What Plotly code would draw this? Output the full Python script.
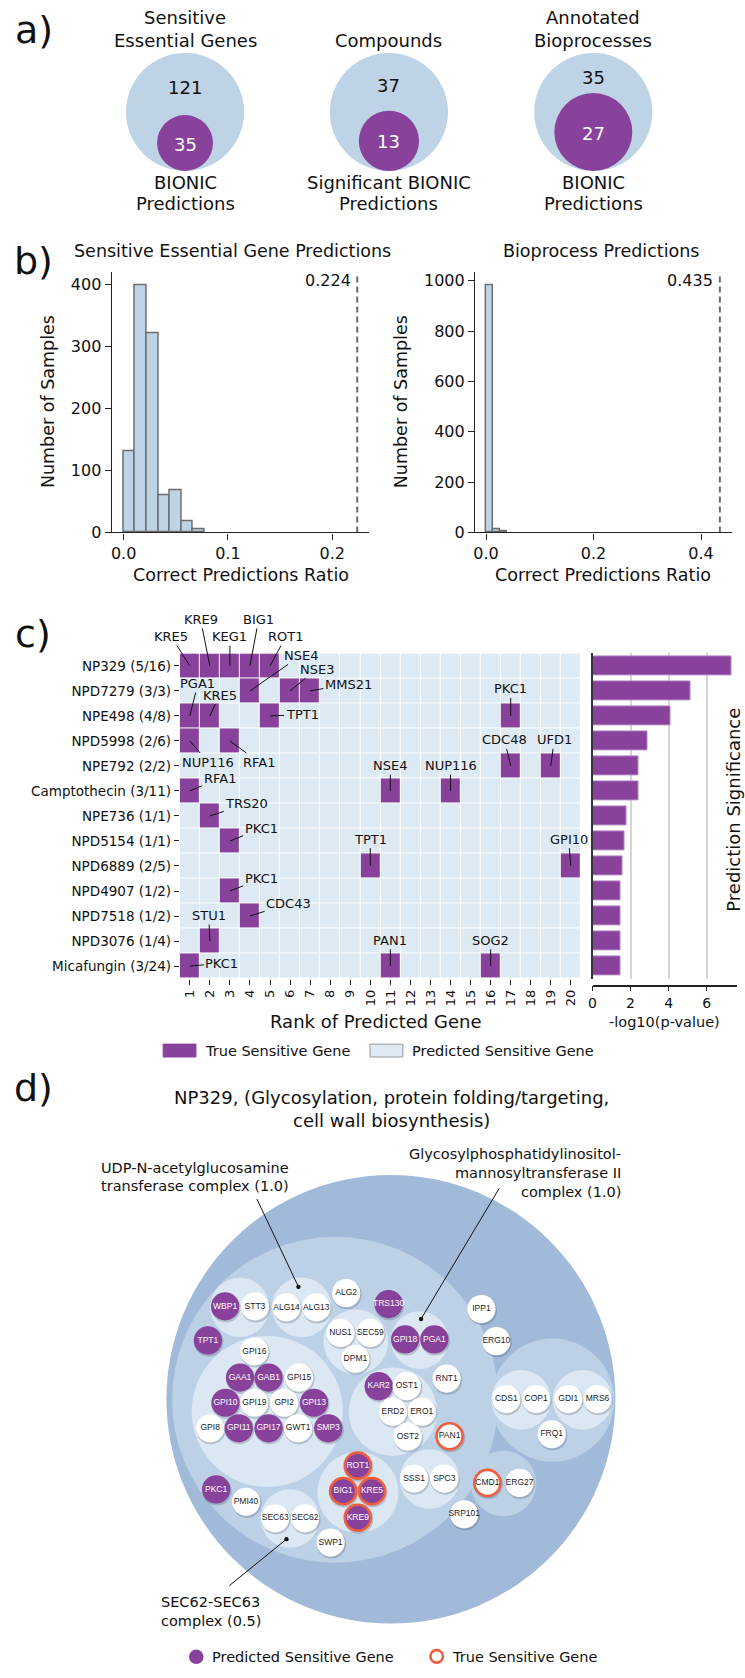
import numpy as np
import plotly.graph_objects as go

W, H = 745, 1678
FONT = "DejaVu Sans"
PURPLE = "#88429c"
LIGHT = "#ddeaf3"
ORANGE = "#ef5e3d"
VENN_BLUE = "#bed3e6"

# ---------------- data: panel a ----------------
venn_top_titles = [["Sensitive", "Essential Genes"], ["Compounds"], ["Annotated", "Bioprocesses"]]
venn_bottom_titles = [["BIONIC", "Predictions"], ["Significant BIONIC", "Predictions"], ["BIONIC", "Predictions"]]
venn_only_counts = [121, 37, 35]
venn_overlap_counts = [35, 13, 27]

# ---------------- data: panel b ----------------
gene_ratio_counts = [131, 400, 322, 60, 69, 19, 5]
gene_ratio_bin = 0.0111
gene_observed_ratio = 0.224
bio_ratio_counts = [983, 15, 5]
bio_ratio_bin = 0.013
bio_observed_ratio = 0.435

# ---------------- data: panel c ----------------
compounds = ["NP329 (5/16)", "NPD7279 (3/3)", "NPE498 (4/8)", "NPD5998 (2/6)", "NPE792 (2/2)",
             "Camptothecin (3/11)", "NPE736 (1/1)", "NPD5154 (1/1)", "NPD6889 (2/5)", "NPD4907 (1/2)",
             "NPD7518 (1/2)", "NPD3076 (1/4)", "Micafungin (3/24)"]
true_hit_ranks = [[1, 2, 3, 4, 5], [4, 6, 7], [1, 2, 5, 17], [1, 3], [17, 19], [1, 11, 14], [2], [3],
                  [10, 20], [3], [4], [2], [1, 11, 16]]
true_hit_genes = [["KRE5", "KRE9", "KEG1", "BIG1", "ROT1"], ["NSE4", "NSE3", "MMS21"],
                  ["PGA1", "KRE5", "TPT1", "PKC1"], ["NUP116", "RFA1"], ["CDC48", "UFD1"],
                  ["RFA1", "NSE4", "NUP116"], ["TRS20"], ["PKC1"], ["TPT1", "GPI10"], ["PKC1"],
                  ["CDC43"], ["STU1"], ["PKC1", "PAN1", "SOG2"]]
neg_log10_pvalue = [7.30, 5.13, 4.09, 2.87, 2.40, 2.40, 1.79, 1.69, 1.58, 1.48, 1.48, 1.48, 1.48]
ranks = list(range(1, 21))
rank_labels = [str(r) for r in ranks]

# label offsets (pixels, layout only)
label_offsets = [
    [(-18.5, -29.3), (-9.3, -46.6), (0, -29.3), (8.7, -46.6), (15.8, -29.3)],
    [(51, -35.5), (26.6, -21.8), (38.2, -6.8)],
    [(8.2, -32.4), (9.7, -20.7), (32, -1.4), (0, -27)],
    [(18.2, 21.1), (28.9, 21.1)],
    [(-6.2, -26.1), (3.4, -26.1)],
    [(29.9, -12.6), (0, -25.3), (0, -25.3)],
    [(37, -12.2)],
    [(31.2, -12.4)],
    [(0, -26.9), (-2.3, -26.9)],
    [(31.2, -12.1)],
    [(38.7, -12.3)],
    [(-1, -25.5)],
    [(32.2, -2.7), (0, -25.7), (0, -25.7)],
]

# ---------------- data: panel d ----------------
leaf_genes = ["WBP1", "STT3", "ALG14", "ALG13", "ALG2", "TRS130", "TPT1", "NUS1", "SEC59", "DPM1",
              "GPI18", "PGA1", "RNT1", "GPI16", "GAA1", "GAB1", "GPI15", "GPI10", "GPI19", "GPI2",
              "GPI13", "GPI8", "GPI11", "GPI17", "GWT1", "SMP3", "KAR2", "OST1", "ERD2", "ERO1",
              "OST2", "PAN1", "PKC1", "PMI40", "SEC63", "SEC62", "SWP1", "ROT1", "BIG1", "KRE5",
              "KRE9", "SSS1", "SPC3", "IPP1", "ERG10", "CDS1", "COP1", "GDI1", "MRS6", "FRQ1",
              "CMD1", "ERG27", "SRP101"]
predicted_genes = ["WBP1", "TRS130", "TPT1", "GPI18", "PGA1", "GAA1", "GAB1", "GPI10", "GPI13",
                   "GPI11", "GPI17", "SMP3", "KAR2", "PKC1", "ROT1", "BIG1", "KRE5", "KRE9"]
true_genes = ["ROT1", "BIG1", "KRE5", "KRE9", "PAN1", "CMD1"]

# circle-packing layout (pixel positions; layout only)
leaf_xy = {
    "WBP1": (222.3, 1314), "STT3": (252.3, 1314), "ALG14": (284, 1315), "ALG13": (314, 1315),
    "ALG2": (344, 1300.7), "TRS130": (386.7, 1311.7), "TPT1": (205, 1348.3),
    "NUS1": (338.3, 1340.7), "SEC59": (368.3, 1340.7), "DPM1": (353.3, 1366.7),
    "GPI18": (403.3, 1347.3), "PGA1": (432.7, 1347.3), "RNT1": (445, 1386.7),
    "GPI16": (251.7, 1359.3), "GAA1": (237.3, 1385.7), "GAB1": (266, 1385.7), "GPI15": (296.7, 1385.7),
    "GPI10": (222.7, 1411), "GPI19": (251.7, 1411), "GPI2": (281.7, 1411), "GPI13": (311.7, 1411),
    "GPI8": (207.3, 1436.7), "GPI11": (236, 1436.7), "GPI17": (266, 1436.7), "GWT1": (295.7, 1436.7),
    "SMP3": (326, 1436.7), "KAR2": (376.7, 1394.3), "OST1": (405, 1394.3), "ERD2": (391, 1420),
    "ERO1": (420, 1420), "OST2": (406, 1445), "PAN1": (448, 1444.7), "PKC1": (213.3, 1498.3),
    "PMI40": (243.3, 1510.7), "SEC63": (272.7, 1527.3), "SEC62": (302.7, 1527.3), "SWP1": (328.3, 1551.7),
    "ROT1": (355.7, 1474.3), "BIG1": (341, 1500), "KRE5": (370, 1500), "KRE9": (355.7, 1526.7),
    "SSS1": (412.3, 1487.3), "SPC3": (442.7, 1487.3), "IPP1": (480, 1316.7), "ERG10": (495, 1349),
    "CDS1": (505, 1407.3), "COP1": (535, 1407.3), "GDI1": (567.3, 1407.3), "MRS6": (596.7, 1407.3),
    "FRQ1": (550.7, 1442.7), "CMD1": (486, 1491.7), "ERG27": (518.3, 1491.7), "SRP101": (462.7, 1523.3),
}
LEAF_R = 14.2
outer_circle = (389, 1407.5, 225.7)
level2_circles = [(333, 1408, 164), (551.5, 1408.3, 62), (502.2, 1492.2, 33)]
level3_circles = [(237, 1315, 29.7), (299.3, 1315, 30), (353.7, 1349.7, 32.5), (417.8, 1348, 29),
                  (264.7, 1419.7, 76), (391, 1420, 44.5), (427.8, 1487.8, 30), (355.8, 1501.2, 40.8),
                  (287.5, 1527.5, 29.5), (520, 1408, 30), (581.7, 1408, 30)]


def px_x(x):
    return x / W


def px_y(y):
    return 1 - y / H


shapes = []
annotations = []


def circle(cx, cy, r, fill, line_color=None, lw=0):
    shapes.append(dict(type="circle", xref="x5", yref="y5", x0=cx - r, x1=cx + r, y0=cy - r, y1=cy + r,
                       fillcolor=fill, line=dict(color=line_color if line_color else "rgba(0,0,0,0)", width=lw),
                       layer="below"))


def txt(x, y, s, size=17, xanchor="center", color="#111", angle=0, family=FONT):
    annotations.append(dict(x=x, y=y, xref="x5", yref="y5", text=s, showarrow=False, xanchor=xanchor,
                            yanchor="middle", font=dict(family=family, size=size, color=color),
                            textangle=angle))


def seg(x0, y0, x1, y1, color="#111", w=1):
    shapes.append(dict(type="line", xref="x5", yref="y5", x0=x0, y0=y0, x1=x1, y1=y1,
                       line=dict(color=color, width=w), layer="below"))


fig = go.Figure()

# ---------------- panel labels ----------------
for lab, (lx, ly) in zip(["a)", "b)", "c)", "d)"], [(29.7, 29), (29.7, 261.7), (29, 637), (30, 1094)]):
    txt(lx, ly, lab, size=38)

# ---------------- panel a ----------------
venn_cx = [182, 387, 592.5]
venn_cy = 111.7
venn_R = 59.4
for i in range(3):
    cx = venn_cx[i]
    total = venn_only_counts[i] + venn_overlap_counts[i]
    r_in = venn_R * np.sqrt(venn_overlap_counts[i] / total)
    cy_in = venn_cy + venn_R - r_in
    circle(cx, venn_cy, venn_R, VENN_BLUE)
    circle(cx, cy_in, r_in, PURPLE)
    y_out = (venn_cy - venn_R + cy_in - r_in) / 2 + 4
    txt(cx, y_out, str(venn_only_counts[i]), size=18)
    txt(cx, cy_in + 1, str(venn_overlap_counts[i]), size=18, color="white")
    tl = venn_top_titles[i]
    for j, line in enumerate(tl):
        yy = 39.3 - (len(tl) - 1 - j) * 22.6
        txt(cx, yy, line, size=18)
    for j, line in enumerate(venn_bottom_titles[i]):
        txt(cx, 182.7 + j * 21.5, line, size=18)

# ---------------- panel b ----------------
gc = np.array(gene_ratio_counts)
gx = np.arange(len(gc)) * gene_ratio_bin + gene_ratio_bin / 2
fig.add_trace(go.Bar(x=gx, y=gc, width=gene_ratio_bin, marker=dict(color="#bfd3e6", line=dict(color="#6e6e6e", width=1.5)),
                     xaxis="x", yaxis="y", showlegend=False, hoverinfo="skip"))
fig.add_trace(go.Scatter(x=[gene_observed_ratio, gene_observed_ratio], y=[0, 420.4], mode="lines",
                         line=dict(color="#6a6a6a", width=2, dash="6px,4px"), xaxis="x", yaxis="y",
                         showlegend=False, hoverinfo="skip"))
bc = np.array(bio_ratio_counts)
bx = np.arange(len(bc)) * bio_ratio_bin + bio_ratio_bin / 2
fig.add_trace(go.Bar(x=bx, y=bc, width=bio_ratio_bin, marker=dict(color="#bfd3e6", line=dict(color="#6e6e6e", width=1.5)),
                     xaxis="x2", yaxis="y2", showlegend=False, hoverinfo="skip"))
fig.add_trace(go.Scatter(x=[bio_observed_ratio, bio_observed_ratio], y=[0, 1034], mode="lines",
                         line=dict(color="#6a6a6a", width=2, dash="6px,4px"), xaxis="x2", yaxis="y2",
                         showlegend=False, hoverinfo="skip"))
annotations.append(dict(x=gene_observed_ratio, y=407, xref="x", yref="y", text=f"{gene_observed_ratio:.3f}",
                        showarrow=False, xanchor="right", xshift=-4, font=dict(family=FONT, size=16, color="#111")))
annotations.append(dict(x=bio_observed_ratio, y=1003, xref="x2", yref="y2", text=f"{bio_observed_ratio:.3f}",
                        showarrow=False, xanchor="right", xshift=-5, font=dict(family=FONT, size=16, color="#111")))
txt(230, 251.7, "Sensitive Essential Gene Predictions", size=17.5)
txt(600, 251.7, "Bioprocess Predictions", size=17.5)
txt(238, 578, "Correct Predictions Ratio", size=17.5)
txt(602, 578, "Correct Predictions Ratio", size=17.5)
txt(45, 403, "Number of Samples", size=17.5, angle=-90)
txt(399, 403, "Number of Samples", size=17.5, angle=-90)

# ---------------- panel c ----------------
z = np.zeros((len(compounds), len(ranks)))
for r, hits in enumerate(true_hit_ranks):
    for k in hits:
        z[r, k - 1] = 1
fig.add_trace(go.Heatmap(z=z, x=ranks, y=list(range(len(compounds))), colorscale=[[0, LIGHT], [1, PURPLE]],
                         zmin=0, zmax=1, showscale=False, xgap=1, ygap=1, xaxis="x3", yaxis="y3",
                         hoverinfo="skip"))
for r, (hits, genes, offs) in enumerate(zip(true_hit_ranks, true_hit_genes, label_offsets)):
    for k, g, (dx, dy) in zip(hits, genes, offs):
        annotations.append(dict(x=k, y=r, xref="x3", yref="y3", text=g, showarrow=True, arrowhead=0,
                                arrowwidth=1, arrowcolor="#111", ax=dx, ay=dy, standoff=0,
                                font=dict(family=FONT, size=13, color="#111")))
fig.add_trace(go.Bar(x=neg_log10_pvalue, y=list(range(len(compounds))), orientation="h", width=0.77,
                     marker=dict(color=PURPLE, line=dict(color="#b58bc6", width=1)), xaxis="x4", yaxis="y4",
                     showlegend=False, hoverinfo="skip"))
txt(374, 1027, "Rank of Predicted Gene", size=18)
txt(664, 1028, "-log10(p-value)", size=14.5)
txt(734, 814, "Prediction Significance", size=18, angle=-90)
# legend c
shapes.append(dict(type="rect", xref="x5", yref="y5", x0=160, x1=193, y0=1050, y1=1063, fillcolor=PURPLE,
                   line=dict(color=PURPLE, width=1), layer="below"))
txt(200, 1057, "True Sensitive Gene", size=14.5, xanchor="left")
shapes.append(dict(type="rect", xref="x5", yref="y5", x0=368, x1=401, y0=1050, y1=1063, fillcolor=LIGHT,
                   line=dict(color="#9a9a9a", width=1), layer="below"))
txt(408, 1057, "Predicted Sensitive Gene", size=14.5, xanchor="left")

# ---------------- panel d ----------------
txt(389.5, 1103.3, "NP329, (Glycosylation, protein folding/targeting,", size=18)
txt(389.5, 1126.7, "cell wall biosynthesis)", size=18)
ocx, ocy, orr = outer_circle
circle(ocx, ocy, orr, "#a2bad9")
for (cx, cy, r) in level2_circles:
    circle(cx, cy, r, "#bcd0e6")
for (cx, cy, r) in level3_circles:
    circle(cx, cy, r, "#dbe7f2")
label_colors = []
for g in leaf_genes:
    cx, cy = leaf_xy[g]
    circle(cx + 0.8, cy + 1.4, LEAF_R + 0.6, "rgba(40,50,70,0.22)")
    fill = PURPLE if g in predicted_genes else "white"
    if g in true_genes:
        circle(cx, cy, LEAF_R - 1.1, fill, ORANGE, 2.6)
    else:
        circle(cx, cy, LEAF_R, fill)
    label_colors.append("white" if g in predicted_genes else "#1a1a1a")
fig.add_trace(go.Scatter(x=[leaf_xy[g][0] for g in leaf_genes], y=[leaf_xy[g][1] for g in leaf_genes],
                         mode="text", text=leaf_genes, textposition="middle center",
                         textfont=dict(family="Liberation Sans", size=8.5, color=label_colors),
                         xaxis="x5", yaxis="y5", showlegend=False, hoverinfo="skip"))
# complex annotations
txt(288.6, 1174.3, "UDP-N-acetylglucosamine", size=14.5, xanchor="right")
txt(288.6, 1192.7, "transferase complex (1.0)", size=14.5, xanchor="right")
seg(254.3, 1206, 296, 1294.3)
circle(296, 1294.3, 2.2, "#111")
txt(622.4, 1161, "Glycosylphosphatidylinositol-", size=14.5, xanchor="right")
txt(622.4, 1180, "mannosyltransferase II", size=14.5, xanchor="right")
txt(622.4, 1199, "complex (1.0)", size=14.5, xanchor="right")
seg(498, 1195, 419.3, 1326.7)
circle(419.3, 1326.7, 2.2, "#111")
txt(156, 1611.7, "SEC62-SEC63", size=14.5, xanchor="left")
txt(156, 1630.7, "complex (0.5)", size=14.5, xanchor="left")
seg(226.7, 1595, 284, 1548.3)
circle(284, 1548.3, 2.2, "#111")
# legend d
circle(193.3, 1666.7, 7.3, PURPLE)
txt(207.3, 1666.7, "Predicted Sensitive Gene", size=14.5, xanchor="left")
circle(435, 1666.3, 6.3, "white", ORANGE, 2.6)
txt(448.3, 1666.7, "True Sensitive Gene", size=14.5, xanchor="left")

# ---------------- axes ----------------
ax_common = dict(showgrid=False, zeroline=False, showline=True, linecolor="#222", linewidth=1.3,
                 ticks="outside", ticklen=6, tickwidth=1.3, tickcolor="#222",
                 tickfont=dict(family=FONT, size=16, color="#111"), fixedrange=True)
heat_dom = [px_y(984), px_y(656.7)]
layout = dict(
    width=W, height=H, autosize=False, margin=dict(l=0, r=0, t=0, b=0, pad=0),
    paper_bgcolor="white", plot_bgcolor="rgba(0,0,0,0)", font=dict(family=FONT, color="#111"),
    showlegend=False, barmode="overlay", bargap=0,
    xaxis=dict(domain=[0, 1], range=[0, W], visible=False, fixedrange=True, anchor="y"),
    yaxis=dict(domain=[0, 1], range=[H, 0], visible=False, fixedrange=True, anchor="x"),
    xaxis5=dict(domain=[px_x(108.3), px_x(367.2)], range=[-0.0114, 0.2355], tickvals=[0, 0.1, 0.2],
                ticktext=["0.0", "0.1", "0.2"], anchor="y5", **ax_common),
    yaxis5=dict(domain=[px_y(535), px_y(273)], range=[0, 420.4], tickvals=[0, 100, 200, 300, 400],
                anchor="x5", **ax_common),
    xaxis2=dict(domain=[px_x(473.6), px_x(731.6)], range=[-0.0204, 0.457], tickvals=[0, 0.2, 0.4],
                ticktext=["0.0", "0.2", "0.4"], anchor="y2", **ax_common),
    yaxis2=dict(domain=[px_y(535), px_y(273)], range=[0, 1034], tickvals=[0, 200, 400, 600, 800, 1000],
                anchor="x2", **ax_common),
    xaxis3=dict(domain=[px_x(176.7), px_x(580)], range=[0.5, 20.5], tickvals=ranks, ticktext=rank_labels,
                tickangle=-90, ticks="outside", ticklen=5, tickcolor="#222", tickwidth=1.2,
                tickfont=dict(family=FONT, size=13, color="#111"), showgrid=False, zeroline=False,
                showline=False, anchor="y3", fixedrange=True),
    yaxis3=dict(domain=heat_dom, range=[12.5, -0.5], tickvals=list(range(len(compounds))), ticktext=compounds,
                ticks="outside", ticklen=5, tickcolor="#222", tickwidth=1.2,
                tickfont=dict(family=FONT, size=13.5, color="#111"), showgrid=False, zeroline=False,
                showline=False, anchor="x3", fixedrange=True),
    xaxis4=dict(domain=[px_x(591.7), px_x(737)], range=[0, 7.6], tickvals=[0, 2, 4, 6], showgrid=True,
                gridcolor="#d5d5d5", gridwidth=1.5, zeroline=False, showline=True, linecolor="#222",
                linewidth=1.5, ticks="outside", ticklen=5, tickcolor="#222",
                tickfont=dict(family=FONT, size=14, color="#111"), anchor="free", position=px_y(991),
                fixedrange=True),
    yaxis4=dict(domain=heat_dom, range=[12.5, -0.5], showticklabels=False, showgrid=False, zeroline=False,
                showline=True, linecolor="#333", linewidth=1.5, ticks="", anchor="x4", fixedrange=True),
)
fig.update_layout(**layout)

# remap page-level references ("x5"/"y5" used above as page axis) to the first axis pair
for s in shapes:
    if s.get("xref") == "x5":
        s["xref"], s["yref"] = "x", "y"
for a in annotations:
    if a.get("xref") == "x5":
        a["xref"], a["yref"] = "x", "y"
    elif a.get("xref") == "x":
        a["xref"], a["yref"] = "x5", "y5"
for tr in fig.data:
    if tr.xaxis == "x5":
        tr.update(xaxis="x", yaxis="y")
    elif tr.xaxis in (None, "x"):
        tr.update(xaxis="x5", yaxis="y5")
fig.update_layout(shapes=shapes, annotations=annotations)

fig.write_html("out.html", config={"displayModeBar": False},
               post_script="document.body.style.margin='0px';document.body.style.overflow='hidden';")
